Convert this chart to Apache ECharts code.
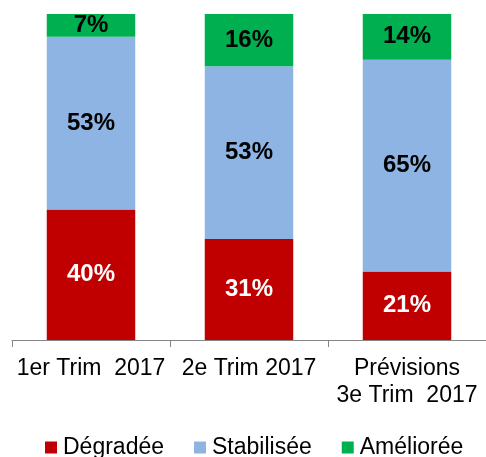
<!DOCTYPE html>
<html><head><meta charset="utf-8">
<script src="https://cdn.jsdelivr.net/npm/echarts@6/dist/echarts.min.js"></script>
<style>html,body{margin:0;padding:0;background:#fff}#c{width:486px;height:457px}</style>
</head><body><div id="c"></div>
<script>
const categories = ['1er Trim  2017', '2e Trim 2017', 'Prévisions\n3e Trim  2017'];
const degradee = [40, 31, 21];
const stabilisee = [53, 53, 65];
const amelioree = [7, 16, 14];
const seriesNames = ['Dégradée', 'Stabilisée', 'Améliorée'];
const colors = ['#C00000', '#8EB4E3', '#00B050'];
const labelColors = ['#ffffff', '#000000', '#000000'];
const font = 'Liberation Sans, Arial, sans-serif';
const chart = echarts.init(document.getElementById('c'));
const data = [degradee, stabilisee, amelioree];
chart.setOption({
  animation: false,
  grid: {left: 12, right: 0, top: 14, bottom: 117},
  xAxis: {
    type: 'category', data: categories,
    axisLine: {lineStyle: {color: '#868686', width: 1}},
    axisTick: {show: true, length: 7, lineStyle: {color: '#868686'}},
    axisLabel: {color: '#000', fontSize: 23, fontFamily: font, margin: 15, lineHeight: 27, interval: 0}
  },
  yAxis: {type: 'value', min: 0, max: 100, show: false, splitLine: {show: false}},
  legend: {
    top: 431, left: 40, itemWidth: 12, itemHeight: 12, itemGap: 30,
    textStyle: {fontSize: 23, fontFamily: font, color: '#000', padding: [0, 0, 0, 1]},
    data: seriesNames.map(n => ({name: n, icon: 'rect'}))
  },
  series: data.map((d, i) => ({
    name: seriesNames[i], type: 'bar', stack: 'a', data: d,
    barCategoryGap: '44%',
    itemStyle: {color: colors[i]},
    label: {show: true, position: 'inside', formatter: '{c}%', color: labelColors[i], fontSize: 24, fontWeight: 'bold', fontFamily: font}
  }))
});
</script></body></html>
